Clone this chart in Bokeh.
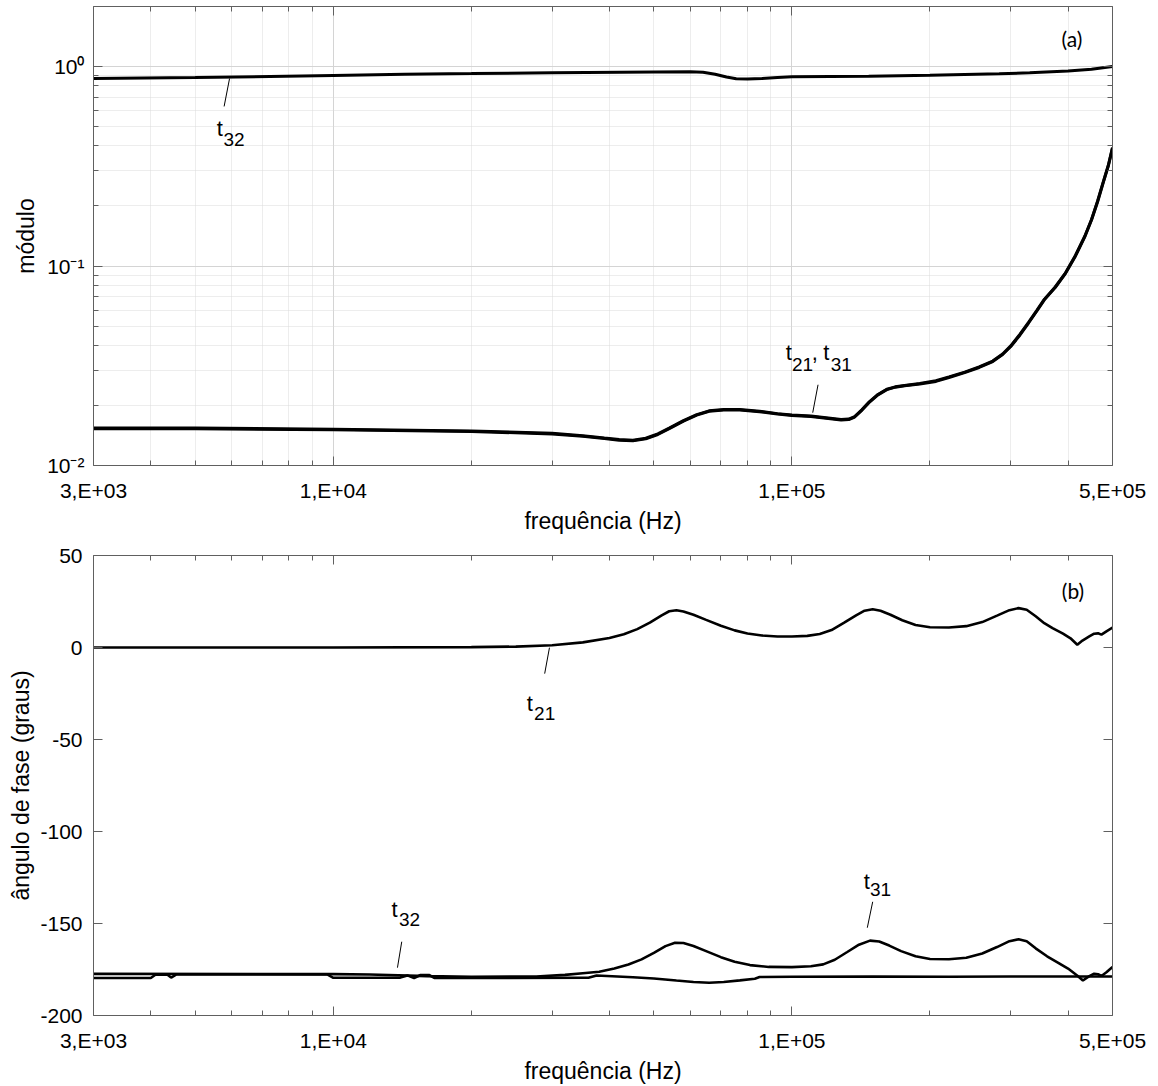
from bokeh.plotting import figure
from bokeh.models import FixedTicker, LogAxis, LinearAxis, Range1d
from bokeh.layouts import column
from bokeh.embed import file_html
from bokeh.resources import INLINE
from bokeh.core.properties import value

FONT = "Liberation Sans"

# ---------------- axis ticks ----------------
x_major = [3e3, 1e4, 1e5, 5e5]
x_minor = [4e3, 5e3, 6e3, 7e3, 8e3, 9e3, 2e4, 3e4, 4e4, 5e4, 6e4, 7e4, 8e4, 9e4, 2e5, 3e5, 4e5]
x_labels = ["3,E+03", "1,E+04", "1,E+05", "5,E+05"]

y1_major = [0.01, 0.1, 1.0]
y1_minor = [0.02, 0.03, 0.04, 0.05, 0.06, 0.07, 0.08, 0.09,
            0.2, 0.3, 0.4, 0.5, 0.6, 0.7, 0.8, 0.9, 2.0]
y1_labels = ["10\u207b\u00b2", "10\u207b\u00b9", "10\u2070"]

y2_major = [-200, -150, -100, -50, 0, 50]
y2_labels = ["-200", "-150", "-100", "-50", "0", "50"]

# ---------------- (a) modulus ----------------
f_mod21 = [3e3, 5e3, 1e4, 2e4, 3e4, 3.5e4, 3.9e4, 4.2e4, 4.5e4, 4.8e4, 5.1e4, 5.4e4,
           5.8e4, 6.2e4, 6.6e4, 7.1e4, 7.7e4, 8.5e4, 9.3e4, 1.0e5, 1.1e5, 1.2e5, 1.28e5,
           1.33e5, 1.37e5, 1.42e5, 1.47e5, 1.54e5, 1.61e5, 1.68e5, 1.76e5, 1.9e5, 2.06e5,
           2.2e5, 2.38e5, 2.56e5, 2.74e5, 2.88e5, 3.0e5, 3.14e5, 3.28e5, 3.42e5, 3.55e5,
           3.75e5, 3.95e5, 4.15e5, 4.35e5, 4.5e5, 4.64e5, 4.78e5, 4.9e5, 5e5]
mod21 = [0.0153, 0.0153, 0.0151, 0.0148, 0.0144, 0.0140, 0.01365, 0.0134, 0.0133, 0.0136,
         0.0143, 0.0153, 0.0167, 0.0179, 0.0187, 0.0190, 0.0190, 0.0186, 0.0181, 0.0178,
         0.0176, 0.0172, 0.0169, 0.0170, 0.0175, 0.0189, 0.0206, 0.0226, 0.0240, 0.0247,
         0.0251, 0.0256, 0.0264, 0.0276, 0.0292, 0.0310, 0.0332, 0.0360, 0.0395, 0.0450,
         0.0518, 0.0595, 0.0677, 0.0780, 0.0920, 0.112, 0.140, 0.170, 0.210, 0.265, 0.320,
         0.390]
f_mod31 = [3e3, 5e3, 1e4, 2e4, 3e4, 3.5e4, 3.9e4, 4.2e4, 4.5e4, 4.8e4, 5.1e4, 5.4e4,
           5.8e4, 6.2e4, 6.6e4, 7.1e4, 7.7e4, 8.5e4, 9.3e4, 1.0e5, 1.1e5, 1.2e5, 1.28e5,
           1.33e5, 1.37e5, 1.42e5, 1.47e5, 1.54e5, 1.61e5, 1.68e5, 1.76e5, 1.9e5, 2.06e5,
           2.2e5, 2.38e5, 2.56e5, 2.74e5, 2.88e5, 3.0e5, 3.14e5, 3.28e5, 3.42e5, 3.55e5,
           3.75e5, 3.95e5, 4.15e5, 4.35e5, 4.5e5, 4.64e5, 4.78e5, 4.9e5, 5e5]
mod31 = [0.0154, 0.0154, 0.0152, 0.0149, 0.0145, 0.0141, 0.01372, 0.0135, 0.0134, 0.0137,
         0.0144, 0.0154, 0.0168, 0.0180, 0.0188, 0.0191, 0.0191, 0.0187, 0.0182, 0.0179,
         0.0177, 0.0173, 0.0170, 0.0171, 0.0176, 0.0190, 0.0207, 0.0227, 0.0241, 0.0248,
         0.0252, 0.0258, 0.0266, 0.0278, 0.0294, 0.0312, 0.0334, 0.0362, 0.0398, 0.0454,
         0.0522, 0.0600, 0.0680, 0.0785, 0.0925, 0.113, 0.141, 0.171, 0.212, 0.267, 0.322,
         0.392]
f_mod32 = [3e3, 5e3, 1e4, 1.43e4, 2e4, 3e4, 5e4, 6e4, 6.4e4, 6.8e4, 7.2e4, 7.56e4, 8.0e4,
           8.6e4, 9.3e4, 1e5, 1.47e5, 2e5, 2.83e5, 3.3e5, 4e5, 4.5e5, 5e5]
mod32 = [0.870, 0.880, 0.903, 0.915, 0.922, 0.932, 0.940, 0.942, 0.936, 0.915, 0.886,
         0.868, 0.865, 0.871, 0.881, 0.888, 0.895, 0.905, 0.920, 0.930, 0.950, 0.970, 1.000]

# ---------------- (b) phase ----------------
f_ph21 = [3e3, 1e4, 2e4, 2.5e4, 3e4, 3.5e4, 4.0e4, 4.3e4, 4.6e4, 4.9e4, 5.2e4, 5.4e4,
          5.6e4, 5.8e4, 6.1e4, 6.5e4, 7.0e4, 7.5e4, 8.0e4, 8.6e4, 9.3e4, 1.0e5, 1.08e5,
          1.15e5, 1.22e5, 1.3e5, 1.38e5, 1.44e5, 1.5e5, 1.56e5, 1.64e5, 1.74e5, 1.86e5,
          2.0e5, 2.2e5, 2.4e5, 2.6e5, 2.8e5, 2.98e5, 3.12e5, 3.25e5, 3.4e5, 3.55e5, 3.7e5,
          3.9e5, 4.05e5, 4.19e5, 4.3e5, 4.45e5, 4.56e5, 4.65e5, 4.73e5, 4.85e5, 5e5]
ph21 = [0.0, 0.0, 0.2, 0.5, 1.2, 2.8, 5.2, 7.2, 10.0, 13.5, 17.5, 19.7, 20.2, 19.6, 17.8,
        15.0, 11.8, 9.3, 7.6, 6.5, 6.0, 6.0, 6.3, 7.3, 9.5, 13.5, 17.5, 20.0, 20.8, 20.0,
        17.8, 14.8, 12.2, 11.0, 10.9, 11.6, 13.8, 17.3, 20.3, 21.4, 20.5, 17.0, 13.2, 10.5,
        7.5, 5.0, 1.5, 3.8, 6.0, 7.5, 7.7, 7.0, 8.8, 10.8]
f_ph31 = [3e3, 1e4, 1.2e4, 1.6e4, 2e4, 2.77e4, 3.2e4, 3.5e4, 3.8e4, 4.1e4, 4.4e4, 4.7e4,
          5.0e4, 5.3e4, 5.56e4, 5.8e4, 6.1e4, 6.5e4, 7.0e4, 7.5e4, 8.1e4, 8.9e4, 1.0e5,
          1.1e5, 1.17e5, 1.24e5, 1.32e5, 1.4e5, 1.48e5, 1.55e5, 1.63e5, 1.73e5, 1.86e5,
          2.0e5, 2.2e5, 2.4e5, 2.6e5, 2.8e5, 2.98e5, 3.12e5, 3.25e5, 3.4e5, 3.6e5, 3.8e5,
          4.0e5, 4.2e5, 4.31e5, 4.45e5, 4.56e5, 4.65e5, 4.73e5, 4.85e5, 5e5]
ph31 = [-177.4, -177.5, -177.7, -178.6, -179.0, -178.8, -177.9, -177.0, -176.2, -174.5,
        -172.3, -169.5, -166.0, -162.3, -160.5, -160.6, -162.2, -165.0, -168.3, -170.8,
        -172.6, -173.6, -173.7, -173.2, -172.2, -169.7, -165.5, -161.5, -159.3, -159.8,
        -162.0, -165.0, -167.8, -169.3, -169.4, -168.6, -166.3, -162.8, -159.6, -158.6,
        -159.6, -163.5, -167.8, -171.2, -174.5, -178.5, -181.0, -178.6, -177.3, -177.6,
        -178.5, -176.5, -173.6]
f_ph32 = [3e3, 4.0e3, 4.1e3, 4.35e3, 4.43e3, 4.55e3, 9.7e3, 1.0e4, 1.4e4, 1.45e4, 1.5e4,
          1.55e4, 1.62e4, 1.66e4, 3.6e4, 3.75e4, 4.5e4, 5.0e4, 5.6e4, 6.1e4, 6.6e4, 7.1e4,
          7.7e4, 8.3e4, 8.5e4, 1.0e5, 1.5e5, 2.2e5, 3.0e5, 4.0e5, 5e5]
ph32 = [-179.6, -179.6, -177.7, -177.8, -179.4, -177.7, -177.7, -179.5, -179.4, -178.2,
        -179.6, -178.0, -178.0, -179.6, -179.5, -178.3, -179.2, -179.9, -181.0, -181.8,
        -182.2, -181.8, -180.9, -180.0, -179.1, -178.9, -178.8, -178.9, -178.8, -178.8,
        -178.8]

AX = "#606060"


def style_axis(ax, labels=None, major=None, show_labels=True):
    ax.major_tick_in = 9
    ax.major_tick_out = 0
    ax.minor_tick_in = 5
    ax.minor_tick_out = 0
    ax.axis_line_color = AX
    ax.major_tick_line_color = AX
    ax.minor_tick_line_color = AX
    if show_labels:
        ax.major_label_overrides = {m: l for m, l in zip(major, labels)}
        ax.major_label_text_font = FONT
        ax.major_label_text_font_size = "21px"
        ax.major_label_text_color = "black"
        ax.axis_label_text_font = FONT
        ax.axis_label_text_font_size = "23px"
        ax.axis_label_text_font_style = "normal"
        ax.axis_label_text_color = "black"
    else:
        ax.major_label_text_font_size = "1px"
        ax.major_label_text_alpha = 0
        ax.major_label_standoff = 0


def add_box_axes(p, xt, yt, log_y):
    top = LogAxis(ticker=xt)
    style_axis(top, show_labels=False)
    p.add_layout(top, "above")
    right = LogAxis(ticker=yt) if log_y else LinearAxis(ticker=yt)
    style_axis(right, show_labels=False)
    p.add_layout(right, "right")


# ================= panel (a) =================
p1 = figure(width=1158, height=540, x_axis_type="log", y_axis_type="log",
            x_range=Range1d(3e3, 5e5), y_range=Range1d(0.01, 2.0),
            output_backend="svg", toolbar_location=None,
            min_border_left=88, min_border_right=46, min_border_top=6, min_border_bottom=75)
p1.outline_line_color = None
xt1 = FixedTicker(ticks=x_major, minor_ticks=x_minor)
yt1 = FixedTicker(ticks=y1_major, minor_ticks=y1_minor)
bx = p1.below[0]
ly = p1.left[0]
bx.ticker = xt1
ly.ticker = yt1
style_axis(bx, x_labels, x_major)
style_axis(ly, y1_labels, y1_major)
bx.axis_label = "frequência (Hz)"
ly.axis_label = "módulo"
bx.major_label_standoff = 13
bx.axis_label_standoff = 3
ly.major_label_standoff = 9
ly.axis_label_standoff = 5
for g in (p1.xgrid[0], p1.ygrid[0]):
    g.grid_line_color = "#d4d4d4"
    g.grid_line_width = 1
    g.minor_grid_line_color = "#dadada"
    g.minor_grid_line_dash = "1 1"
add_box_axes(p1, xt1, yt1, True)

p1.line(f_mod21, mod21, line_color="black", line_width=3)
p1.line(f_mod31, mod31, line_color="black", line_width=3)
p1.line(f_mod32, mod32, line_color="black", line_width=3)

# annotations (a)
p1.text(x=[5.57e3, 9.7e4, 1.17e5], y=[0.49, 0.0367, 0.0367], text=["t", "t", "t"],
        text_font=value(FONT), text_font_size="22px", text_align="left",
        text_baseline="alphabetic", text_color="black")
p1.text(x=[5.76e3, 1.0e5, 1.215e5], y=[0.431, 0.032, 0.032], text=["32", "21", "31"],
        text_font=value(FONT), text_font_size="19px", text_align="left",
        text_baseline="alphabetic", text_color="black")
p1.text(x=[1.105e5], y=[0.0367], text=[","], text_font=value(FONT), text_font_size="22px",
        text_align="left", text_baseline="alphabetic", text_color="black")
p1.segment(x0=[5.94e3, 1.14e5], y0=[0.871, 0.0254], x1=[5.78e3, 1.11e5], y1=[0.631, 0.0184],
           line_color="black", line_width=1)
p1.text(x=[4.08e5], y=[1.38], text=["(a)"], text_font=value("Lato"), text_font_size="21px",
        text_align="center", text_baseline="middle", text_color="black")

# ================= panel (b) =================
p2 = figure(width=1158, height=546, x_axis_type="log",
            x_range=Range1d(3e3, 5e5), y_range=Range1d(-200, 50),
            output_backend="svg", toolbar_location=None,
            min_border_left=93, min_border_right=43, min_border_top=15, min_border_bottom=70)
p2.outline_line_color = None
xt2 = FixedTicker(ticks=x_major, minor_ticks=x_minor)
yt2 = FixedTicker(ticks=y2_major, minor_ticks=[])
bx2 = p2.below[0]
ly2 = p2.left[0]
bx2.ticker = xt2
ly2.ticker = yt2
style_axis(bx2, x_labels, x_major)
style_axis(ly2, y2_labels, y2_major)
bx2.axis_label = "frequência (Hz)"
ly2.axis_label = "ângulo de fase (graus)"
bx2.major_label_standoff = 13
bx2.axis_label_standoff = 3
ly2.major_label_standoff = 11
ly2.axis_label_standoff = 3
p2.xgrid.visible = False
p2.ygrid.visible = False
add_box_axes(p2, xt2, yt2, False)

p2.line(f_ph21, ph21, line_color="black", line_width=2.6)
p2.line(f_ph31, ph31, line_color="black", line_width=2.6)
p2.line(f_ph32, ph32, line_color="black", line_width=2.6)

p2.text(x=[2.64e4, 1.34e4, 1.435e5], y=[-30.4, -142.5, -127.4], text=["t", "t", "t"],
        text_font=value(FONT), text_font_size="22px", text_align="left",
        text_baseline="alphabetic", text_color="black")
p2.text(x=[2.74e4, 1.39e4, 1.48e5], y=[-35.9, -148.0, -131.7], text=["21", "32", "31"],
        text_font=value(FONT), text_font_size="19px", text_align="left",
        text_baseline="alphabetic", text_color="black")
p2.segment(x0=[2.96e4, 1.41e4, 1.5e5], y0=[-0.1, -159.9, -138.2],
           x1=[2.89e4, 1.38e4, 1.46e5], y1=[-14.2, -174.0, -152.3],
           line_color="black", line_width=1)
p2.text(x=[4.1e5], y=[30.8], text=["(b)"], text_font=value("Lato"), text_font_size="21px",
        text_align="center", text_baseline="middle", text_color="black")

layout = column(p1, p2, spacing=0)
open("out.html", "w").write(file_html(layout, INLINE))
